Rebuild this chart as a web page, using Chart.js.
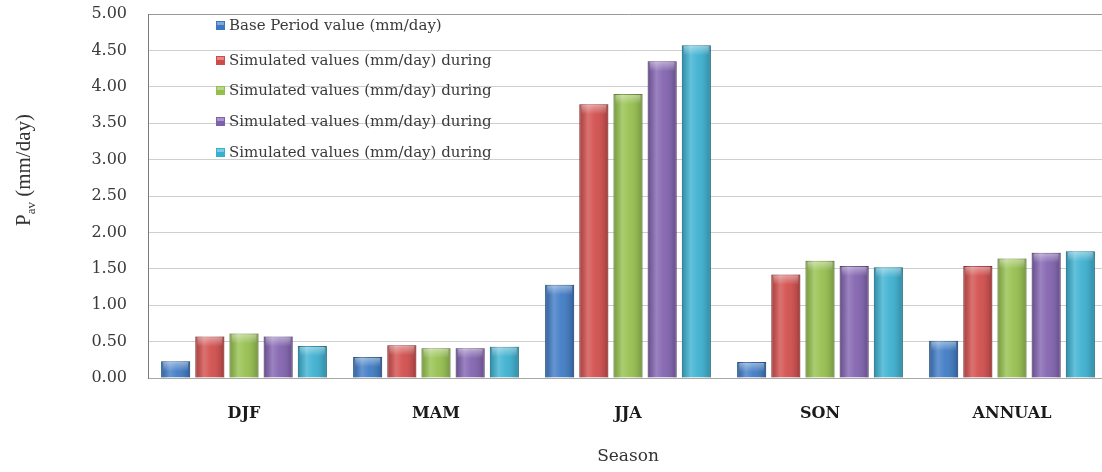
<!DOCTYPE html>
<html>
<head>
<meta charset="utf-8">
<script src="https://cdn.jsdelivr.net/npm/chart.js@4.4.1/dist/chart.umd.min.js"></script>
<style>
  html, body { margin: 0; padding: 0; background: #fff; overflow: hidden; }
  #wrap { width: 1110px; height: 472px; }
</style>
</head>
<body>
<div id="wrap"><canvas id="seasonChart" width="1110" height="472"></canvas></div>
<script>
// ----- Data -----
const seasons = ["DJF", "MAM", "JJA", "SON", "ANNUAL"];
const yTicks = [0, 0.5, 1, 1.5, 2, 2.5, 3, 3.5, 4, 4.5, 5];

const basePeriod = [0.23, 0.29, 1.28, 0.22, 0.51];
const simulatedA = [0.57, 0.45, 3.76, 1.42, 1.54];
const simulatedB = [0.61, 0.41, 3.90, 1.61, 1.64];
const simulatedC = [0.57, 0.41, 4.35, 1.54, 1.72];
const simulatedD = [0.44, 0.43, 4.57, 1.52, 1.74];

const seriesLabels = [
  "Base Period value (mm/day)",
  "Simulated values (mm/day) during",
  "Simulated values (mm/day) during",
  "Simulated values (mm/day) during",
  "Simulated values (mm/day) during",
];

const seriesColors = ["#3b78c4", "#d04a48", "#93bf4a", "#7f5fae", "#38afd0"];
const seriesEdges = ["#2a5a96", "#9a3230", "#6a8f30", "#5c4382", "#2583a0"];

// ----- Plugins -----

// glossy shading on top of each bar, using the bar elements laid out by Chart.js
const glossPlugin = {
  id: "gloss",
  afterDatasetsDraw(chart) {
    const ctx = chart.ctx;
    chart.data.datasets.forEach((ds, i) => {
      const meta = chart.getDatasetMeta(i);
      meta.data.forEach(bar => {
        const left = bar.x - bar.width / 2;
        const top = bar.y;
        const h = bar.base - bar.y;
        const g = ctx.createLinearGradient(left, 0, left + bar.width, 0);
        g.addColorStop(0, "rgba(0,0,0,0.18)");
        g.addColorStop(0.3, "rgba(255,255,255,0.22)");
        g.addColorStop(0.55, "rgba(255,255,255,0.08)");
        g.addColorStop(1, "rgba(0,0,0,0.22)");
        ctx.save();
        ctx.fillStyle = g;
        ctx.fillRect(left, top, bar.width, h);
        const cap = ctx.createLinearGradient(0, top, 0, top + 10);
        cap.addColorStop(0, "rgba(255,255,255,0.45)");
        cap.addColorStop(1, "rgba(255,255,255,0)");
        ctx.fillStyle = cap;
        ctx.fillRect(left + 2, top + 1, bar.width - 4, Math.min(10, h - 1));
        ctx.restore();
      });
    });
  }
};

// legend drawn inside the plot, like the original
const innerLegend = {
  id: "innerLegend",
  afterDraw(chart) {
    const ctx = chart.ctx;
    const rows = [26, 61, 91, 122, 153];
    ctx.save();
    ctx.font = "15px 'DejaVu Serif'";
    ctx.textBaseline = "middle";
    chart.data.datasets.forEach((ds, i) => {
      const y = rows[i];
      ctx.fillStyle = ds.backgroundColor;
      ctx.fillRect(216, y - 5, 9, 9);
      ctx.fillStyle = "rgba(255,255,255,0.35)";
      ctx.fillRect(217, y - 4, 7, 3);
      ctx.fillStyle = "#3a3a3a";
      ctx.fillText(ds.label, 229, y);
    });
    ctx.restore();
  }
};

// axis titles ("P" with subscript "av")
const axisTitles = {
  id: "axisTitles",
  afterDraw(chart) {
    const ctx = chart.ctx;
    const area = chart.chartArea;
    ctx.save();
    ctx.fillStyle = "#333";
    ctx.textBaseline = "alphabetic";

    // y title
    ctx.translate(30, 170);
    ctx.rotate(-Math.PI / 2);
    const big = "21px 'Liberation Serif'";
    const small = "13px 'Liberation Serif'";
    ctx.font = big;
    const wP = ctx.measureText("P").width;
    const wRest = ctx.measureText(" (mm/day)").width;
    ctx.font = small;
    const wSub = ctx.measureText("av").width;
    let x = -(wP + wSub + wRest) / 2;
    ctx.font = big;
    ctx.fillText("P", x, 0);
    x += wP;
    ctx.font = small;
    ctx.fillText("av", x, 5);
    x += wSub;
    ctx.font = big;
    ctx.fillText(" (mm/day)", x, 0);
    ctx.restore();

    // x title
    ctx.save();
    ctx.fillStyle = "#333";
    ctx.font = "17px 'DejaVu Serif'";
    ctx.textAlign = "center";
    ctx.textBaseline = "middle";
    ctx.fillText("Season", (area.left + area.right) / 2, 457);
    ctx.restore();
  }
};

// ----- Chart -----
document.addEventListener("DOMContentLoaded", () => {
  const ctx = document.getElementById("seasonChart").getContext("2d");
  const values = [basePeriod, simulatedA, simulatedB, simulatedC, simulatedD];

  new Chart(ctx, {
    type: "bar",
    data: {
      labels: seasons,
      datasets: values.map((v, i) => ({
        label: seriesLabels[i],
        data: v,
        backgroundColor: seriesColors[i],
        borderColor: seriesEdges[i],
        borderWidth: 1,
        barPercentage: 0.85,
        categoryPercentage: 0.89,
      })),
    },
    options: {
      responsive: false,
      animation: false,
      devicePixelRatio: 1,
      layout: { padding: { top: 14, right: 2, left: 0, bottom: 0 } },
      plugins: {
        legend: { display: false },
        tooltip: { enabled: false },
      },
      scales: {
        x: {
          grid: { display: false, drawTicks: false },
          border: { color: "#a8a8a8", width: 1 },
          ticks: {
            padding: 26,
            color: "#1a1a1a",
            font: { family: "'DejaVu Serif'", size: 16, weight: "bold" },
          },
          afterFit: scale => {
            scale.height = 94;
            scale.paddingLeft = 0;
            scale.paddingRight = 0;
          },
        },
        y: {
          min: 0,
          max: 5,
          afterBuildTicks: scale => {
            scale.ticks = yTicks.map(v => ({ value: v }));
          },
          grid: {
            drawTicks: false,
            color: c => (c.tick && c.tick.value === 5 ? "#9a9a9a" : "#cfcfcf"),
            lineWidth: 1,
          },
          border: { color: "#7a7a7a", width: 1 },
          ticks: {
            padding: 21,
            color: "#3a3a3a",
            font: { family: "'DejaVu Serif'", size: 16 },
            callback: v => Number(v).toFixed(2),
          },
          afterFit: scale => {
            scale.width = 148;
            scale.paddingTop = 0;
            scale.paddingBottom = 0;
          },
        },
      },
    },
    plugins: [glossPlugin, innerLegend, axisTitles],
  });
});
</script>
</body>
</html>
